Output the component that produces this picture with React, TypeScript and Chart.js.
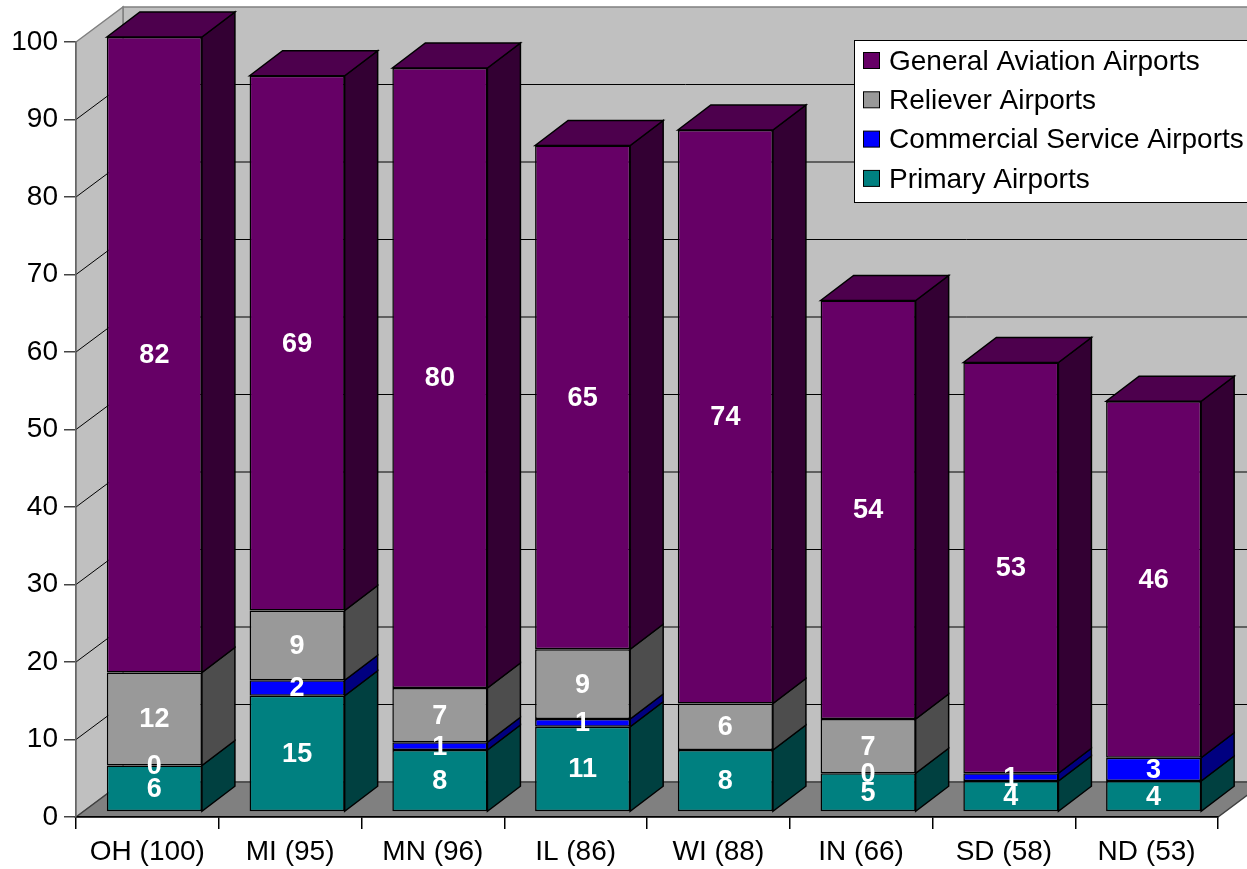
import React, { useEffect, useRef } from 'react';
import { Chart, registerables } from 'chart.js';

Chart.register(...registerables);

const categories = ['OH (100)', 'MI (95)', 'MN (96)', 'IL (86)', 'WI (88)', 'IN (66)', 'SD (58)', 'ND (53)'];
const primaryAirports = [6, 15, 8, 11, 8, 5, 4, 4];
const commercialServiceAirports: (number | null)[] = [0, 2, 1, 1, null, 0, 1, 3];
const relieverAirports: (number | null)[] = [12, 9, 7, 9, 6, 7, null, null];
const generalAviationAirports = [82, 69, 80, 65, 74, 54, 53, 46];

const seriesNames = ['Primary Airports', 'Commercial Service Airports', 'Reliever Airports', 'General Aviation Airports'];
const seriesData = [primaryAirports, commercialServiceAirports, relieverAirports, generalAviationAirports];
const frontColors = ['#008080', '#0000ff', '#999999', '#660066'];
const sideColors = ['#004040', '#000080', '#4d4d4d', '#330033'];
const topColors = ['#006666', '#0000cc', '#7a7a7a', '#4d004d'];

const yMin = 0;
const yMax = 100;
const yStep = 10;

const FONT = '"Liberation Sans", Arial, sans-serif';
const WALL_DX = 47;
const WALL_DY = -35;
const BAR_OX = 7;
const BAR_OY = -5;
const BAR_DX = 33;
const BAR_DY = -25;

type Pt = [number, number];

function poly(ctx: CanvasRenderingContext2D, pts: Pt[], fill: string, stroke: string, lw = 1) {
  ctx.beginPath();
  ctx.moveTo(pts[0][0], pts[0][1]);
  for (let i = 1; i < pts.length; i++) ctx.lineTo(pts[i][0], pts[i][1]);
  ctx.closePath();
  ctx.fillStyle = fill;
  ctx.fill();
  ctx.strokeStyle = stroke;
  ctx.lineWidth = lw;
  ctx.stroke();
}

const threeDPlugin = {
  id: 'threeD',
  beforeDraw(chart: any) {
    const ctx: CanvasRenderingContext2D = chart.ctx;
    const { left: L, right: R, top: T, bottom: B } = chart.chartArea;
    const y = chart.scales.y;
    ctx.save();
    poly(ctx, [[L + WALL_DX, T + WALL_DY], [R + WALL_DX, T + WALL_DY], [R + WALL_DX, B + WALL_DY], [L + WALL_DX, B + WALL_DY]], '#c0c0c0', '#808080', 1.5);
    poly(ctx, [[L, T], [L + WALL_DX, T + WALL_DY], [L + WALL_DX, B + WALL_DY], [L, B]], '#c0c0c0', '#808080', 1.5);
    ctx.strokeStyle = '#000';
    ctx.lineWidth = 1;
    for (let v = yMin + yStep; v < yMax; v += yStep) {
      const py = y.getPixelForValue(v);
      ctx.beginPath();
      ctx.moveTo(L, py);
      ctx.lineTo(L + WALL_DX, py + WALL_DY);
      ctx.lineTo(R + WALL_DX, py + WALL_DY);
      ctx.stroke();
    }
    poly(ctx, [[L, B], [L + WALL_DX, B + WALL_DY], [R + WALL_DX, B + WALL_DY], [R, B]], '#808080', '#404040', 1.5);
    ctx.restore();
  },
  beforeDatasetsDraw(chart: any) {
    const ctx: CanvasRenderingContext2D = chart.ctx;
    const metas = chart.getSortedVisibleDatasetMetas();
    ctx.save();
    for (let i = 0; i < categories.length; i++) {
      let topK = -1;
      metas.forEach((meta: any, k: number) => {
        const v = chart.data.datasets[meta.index].data[i];
        if (v != null && v > 0) topK = k;
      });
      metas.forEach((meta: any, k: number) => {
        const v = chart.data.datasets[meta.index].data[i];
        if (v == null || v <= 0) return;
        const el = meta.data[i];
        const p = el.getProps(['x', 'y', 'base', 'width'], true);
        const l = p.x - p.width / 2 + BAR_OX;
        const r = p.x + p.width / 2 + BAR_OX;
        const t = p.y + BAR_OY;
        const b = p.base + BAR_OY;
        poly(ctx, [[r, t], [r + BAR_DX, t + BAR_DY], [r + BAR_DX, b + BAR_DY], [r, b]], sideColors[meta.index], '#000', 1.5);
        if (k === topK) {
          poly(ctx, [[l, t], [l + BAR_DX, t + BAR_DY], [r + BAR_DX, t + BAR_DY], [r, t]], topColors[meta.index], '#000', 1.5);
        }
      });
    }
    ctx.restore();
    ctx.save();
    ctx.translate(BAR_OX, BAR_OY);
  },
  afterDatasetsDraw(chart: any) {
    const ctx: CanvasRenderingContext2D = chart.ctx;
    ctx.restore();
    ctx.save();
    ctx.font = `bold 27px ${FONT}`;
    ctx.fillStyle = '#fff';
    ctx.textAlign = 'center';
    ctx.textBaseline = 'middle';
    const metas = chart.getSortedVisibleDatasetMetas();
    metas.forEach((meta: any) => {
      const data = chart.data.datasets[meta.index].data;
      meta.data.forEach((el: any, i: number) => {
        const v = data[i];
        if (v == null) return;
        const p = el.getProps(['x', 'y', 'base'], true);
        ctx.fillText(String(v), p.x + BAR_OX, (p.y + p.base) / 2 + BAR_OY + 1);
      });
    });
    ctx.restore();
  },
  afterDraw(chart: any) {
    const ctx: CanvasRenderingContext2D = chart.ctx;
    ctx.save();
    const bx = 854, by = 40, bw = 420, bh = 162;
    ctx.fillStyle = '#fff';
    ctx.fillRect(bx, by, bw, bh);
    ctx.strokeStyle = '#000';
    ctx.lineWidth = 1;
    ctx.strokeRect(bx + 0.5, by + 0.5, bw, bh);
    ctx.font = `28px ${FONT}`;
    ctx.textAlign = 'left';
    ctx.textBaseline = 'middle';
    const order = [3, 2, 1, 0];
    order.forEach((s, r) => {
      const cy = 61 + r * 39.3;
      ctx.fillStyle = frontColors[s];
      ctx.fillRect(863.5, cy - 8.5, 16, 16);
      ctx.strokeStyle = '#000';
      ctx.strokeRect(863.5, cy - 8.5, 16, 16);
      ctx.fillStyle = '#000';
      ctx.fillText(seriesNames[s], 889, cy + 1);
    });
    ctx.restore();
  },
};

export default function App() {
  const canvasRef = useRef<HTMLCanvasElement | null>(null);
  useEffect(() => {
    if (!canvasRef.current) return;
    const chart = new Chart(canvasRef.current, {
      type: 'bar',
      data: {
        labels: categories,
        datasets: seriesData.map((d, i) => ({
          label: seriesNames[i],
          data: d,
          backgroundColor: frontColors[i],
          borderColor: '#000',
          borderWidth: 1.5,
          borderSkipped: false,
          categoryPercentage: 1,
          barPercentage: 0.666,
          clip: false as any,
        })),
      },
      options: {
        animation: false,
        responsive: true,
        maintainAspectRatio: false,
        events: [],
        layout: { padding: { top: 42, right: 29, left: 0, bottom: 0 } },
        plugins: { legend: { display: false }, tooltip: { enabled: false }, title: { display: false } },
        scales: {
          x: {
            stacked: true,
            offset: true,
            grid: { display: true, drawOnChartArea: false, drawTicks: true, tickLength: 12, color: '#000', offset: true, lineWidth: 1.5 },
            border: { display: true, color: '#000', width: 1.5 },
            ticks: { color: '#000', font: { family: FONT, size: 28 }, padding: 6, maxRotation: 0, autoSkip: false },
            afterFit: (scale: any) => { scale.height = 52; },
          },
          y: {
            stacked: true,
            min: yMin,
            max: yMax,
            grid: { display: true, drawOnChartArea: false, drawTicks: true, tickLength: 12, color: '#444', lineWidth: 1.5 },
            border: { display: true, color: '#666', width: 1.5 },
            ticks: { stepSize: yStep, color: '#000', font: { family: FONT, size: 28 }, padding: 6 },
            afterFit: (scale: any) => { scale.width = 76; },
          },
        },
      },
      plugins: [threeDPlugin],
    });
    return () => chart.destroy();
  }, []);
  return (
    <div style={{ position: 'absolute', left: 0, top: 0, width: 1247, height: 869, background: '#fff' }}>
      <canvas ref={canvasRef} />
    </div>
  );
}
